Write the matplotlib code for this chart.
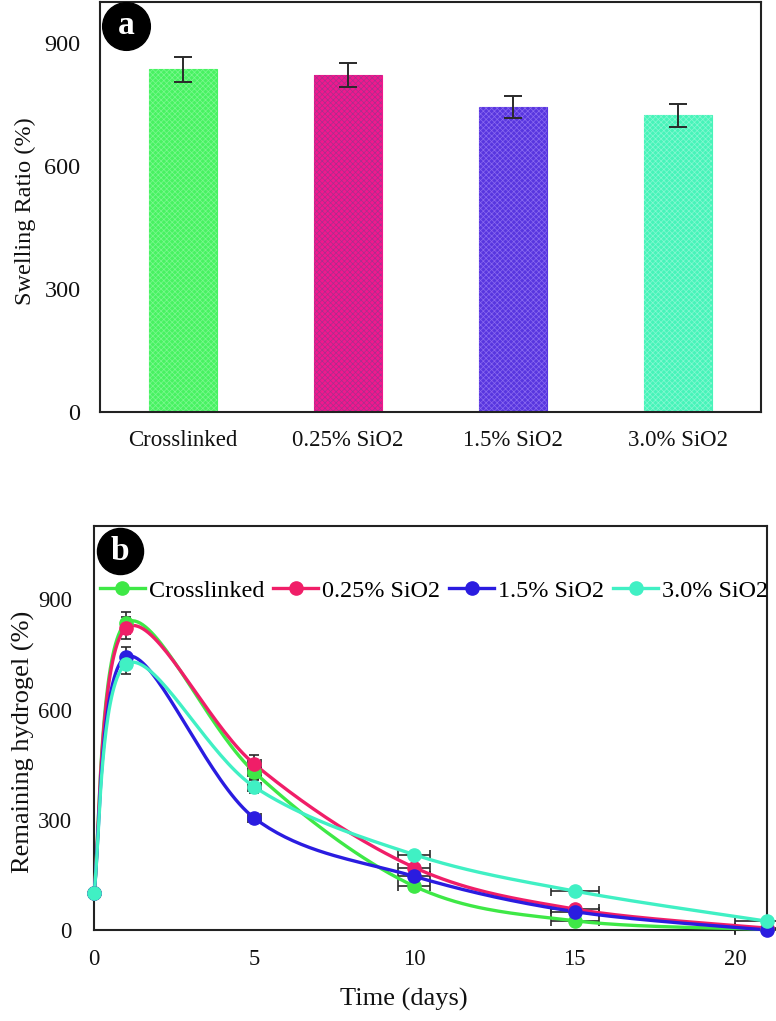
import numpy as np
import matplotlib
matplotlib.use("Agg")
import matplotlib.pyplot as plt

# ---------------- data ----------------
categories = ["Crosslinked", "0.25% SiO2", "1.5% SiO2", "3.0% SiO2"]
swelling = [836, 822, 744, 724]
swelling_err = [30, 29, 27, 28]

days = [0, 1, 5, 10, 15, 21]
remain_cross = [100, 836, 430, 119, 25, 2]
remain_025 = [100, 822, 452, 170, 57, 5]
remain_15 = [100, 744, 305, 146, 50, 0]
remain_30 = [100, 724, 390, 205, 106, 24]

yerr_cross = [0, 30, 20, 0, 0, 0]
yerr_025 = [0, 29, 25, 0, 0, 0]
yerr_15 = [0, 27, 8, 0, 0, 0]
yerr_30 = [0, 28, 18, 0, 0, 0]
xerr_days = [0, 0, 0.2, 0.5, 0.75, 1.0]

bar_colors = ["#48f262", "#f0188e", "#5836df", "#47f4b9"]
hatch_colors = ["#7cf890", "#a8308c", "#8a6af0", "#86f8d2"]
line_colors = ["#3ee846", "#f01e68", "#2a1ce0", "#40f0c4"]

plt.rcParams["font.family"] = ["Liberation Serif", "DejaVu Serif"]
plt.rcParams["hatch.linewidth"] = 0.5

fig = plt.figure(figsize=(7.76, 10.21), dpi=100)

W, H = 776.0, 1021.0
def rect(l, t, r, b):
    return [l / W, 1 - b / H, (r - l) / W, (b - t) / H]

spine_c = "#222222"
txt_c = "#111111"

# ---------------- panel a ----------------
ax1 = fig.add_axes(rect(100, 2, 761, 412))
xpos = np.arange(len(categories))
ax1.bar(xpos, swelling, width=0.41, color=bar_colors, edgecolor=bar_colors, linewidth=0.8, zorder=2)
for xi, h, hc in zip(xpos, swelling, hatch_colors):
    ax1.bar([xi], [h], width=0.41, facecolor="none", edgecolor=hc, hatch="xxxxxx", linewidth=0, zorder=2.5)
ax1.errorbar(xpos, swelling, yerr=swelling_err, fmt="none", ecolor="#2a2a2a",
             elinewidth=1.4, capsize=6.5, capthick=1.4, zorder=3)
ax1.set_xlim(-0.5, 3.5)
ax1.set_ylim(0, 1000)
ax1.set_yticks([0, 300, 600, 900])
ax1.set_xticks(xpos)
ax1.set_xticklabels(categories)
ax1.tick_params(axis="both", length=0, colors=txt_c)
ax1.tick_params(axis="y", pad=14, labelsize=17.5)
ax1.tick_params(axis="x", pad=13, labelsize=16.5)
ax1.set_ylabel("Swelling Ratio (%)", fontsize=17.5, color=txt_c)
ax1.yaxis.set_label_coords(-0.097, 0.49)
for s in ax1.spines.values():
    s.set_color(spine_c)
    s.set_linewidth(1.5)

ax1.scatter([0.0393], [0.9415], s=1180, c="black", transform=ax1.transAxes, clip_on=False, zorder=5)
ax1.text(0.0393, 0.9415, "a", transform=ax1.transAxes, ha="center", va="center",
         color="white", fontsize=24, fontweight="bold", zorder=6)

# ---------------- panel b ----------------
ax2 = fig.add_axes(rect(94, 526, 767, 930))
ax2.set_xlim(0, 21)
ax2.set_ylim(0, 1100)

sx = 673 / 21.0
sy = 404 / 1100.0

def smooth_curve(x, y, n=40):
    P = np.column_stack([np.asarray(x, float) * sx, np.asarray(y, float) * sy])
    m = len(P)
    out = []
    for i in range(m - 1):
        p0 = P[i]
        p3 = P[i + 1]
        pm = P[i - 1] if i > 0 else P[i]
        pp = P[i + 2] if i + 2 < m else P[i + 1]
        c1 = p0 + (p3 - pm) / 6.0
        c2 = p3 - (pp - p0) / 6.0
        t = np.linspace(0, 1, n)[:, None]
        seg = ((1 - t) ** 3) * p0 + 3 * ((1 - t) ** 2) * t * c1 + 3 * (1 - t) * t ** 2 * c2 + t ** 3 * p3
        out.append(seg if i == 0 else seg[1:])
    out = np.vstack(out)
    return out[:, 0] / sx, out[:, 1] / sy

series = [(categories[0], remain_cross, yerr_cross),
          (categories[1], remain_025, yerr_025),
          (categories[2], remain_15, yerr_15),
          (categories[3], remain_30, yerr_30)]

handles = []
for (name, vals, ye), col in zip(series, line_colors):
    ax2.errorbar(days, vals, yerr=ye, xerr=xerr_days, fmt="none", ecolor="#2a2a2a",
                 elinewidth=1.2, capsize=3.5, capthick=1.2, zorder=2, clip_on=False)
for (name, vals, ye), col in zip(series, line_colors):
    xs, ys = smooth_curve(days, vals)
    ax2.plot(xs, ys, color=col, lw=2.4, zorder=3, clip_on=False)
    ax2.plot(days, vals, "o", color=col, ms=9.5, zorder=4, clip_on=False)
    h, = ax2.plot([], [], "-o", color=col, lw=2.4, ms=9.5, label=name)
    handles.append(h)

ax2.set_xticks([0, 5, 10, 15, 20])
ax2.set_yticks([0, 300, 600, 900])
ax2.tick_params(axis="both", length=0, labelsize=16.3, colors=txt_c)
ax2.tick_params(axis="y", pad=16)
ax2.tick_params(axis="x", pad=14)
ax2.set_xlabel("Time (days)", fontsize=19, color=txt_c)
ax2.xaxis.set_label_coords(0.46, -0.1436)
ax2.set_ylabel("Remaining hydrogel (%)", fontsize=19, color=txt_c)
ax2.yaxis.set_label_coords(-0.088, 0.465)
for s in ax2.spines.values():
    s.set_color(spine_c)
    s.set_linewidth(1.5)

ax2.legend(handles=handles, loc="center left", bbox_to_anchor=(0.009, 0.84), ncol=4,
           frameon=False, fontsize=17.4, handlelength=1.85, handletextpad=0.17,
           columnspacing=0.38, borderaxespad=0, borderpad=0)

ax2.scatter([0.0386], [0.938], s=1100, c="black", transform=ax2.transAxes, clip_on=False, zorder=5)
ax2.text(0.0386, 0.938, "b", transform=ax2.transAxes, ha="center", va="center",
         color="white", fontsize=24, fontweight="bold", zorder=6)

fig.savefig("out.png", dpi=100)
